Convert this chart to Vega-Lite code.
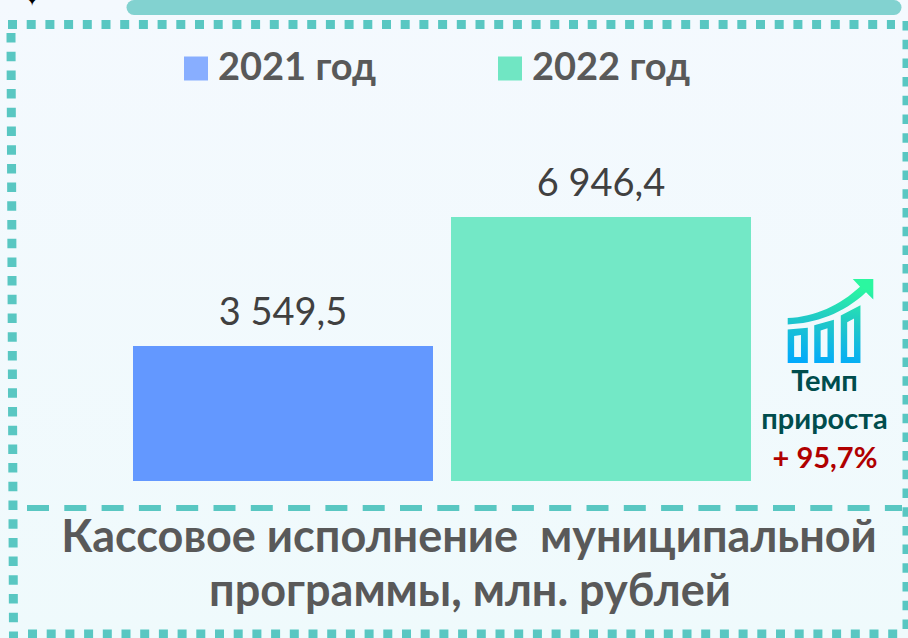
{
"$schema":"https://vega.github.io/schema/vega-lite/v6.json",
"width":908,"height":638,"padding":0,
"autosize":{"type":"none"},
"background":"#F2F9FD",
"config":{"view":{"stroke":null}},
"data":{"values":[
{"year":"2021 год","value":3549.5,"label":"3 549,5"},
{"year":"2022 год","value":6946.4,"label":"6 946,4"}]},
"layer":[
{"data":{"values":[{}]},"mark":{"type":"rect","color":{"gradient":"linear","x1":0,"y1":0,"x2":0,"y2":1,"stops":[{"offset":0,"color":"#F4F9FE"},{"offset":1,"color":"#EFFAFC"}]}},
 "encoding":{"x":{"value":0},"x2":{"value":908},"y":{"value":0},"y2":{"value":638}}},
{"data":{"values":[{}]},"mark":{"type":"rule","color":"#82D2D0","strokeWidth":15,"strokeCap":"round"},
 "encoding":{"x":{"value":134},"x2":{"value":894},"y":{"value":7.5},"y2":{"value":7.5}}},
{"data":{"values":[{}]},"mark":{"type":"rule","color":"#59C7C2","strokeWidth":9,"strokeDash":[9,9.7]},
 "encoding":{"x":{"value":8},"x2":{"value":895},"y":{"value":24.5},"y2":{"value":24.5}}},
{"data":{"values":[{}]},"mark":{"type":"rule","color":"#59C7C2","strokeWidth":9,"strokeDash":[9.5,9.2]},
 "encoding":{"x":{"value":11},"x2":{"value":13.5},"y":{"value":33},"y2":{"value":638}}},
{"data":{"values":[{}]},"mark":{"type":"rule","color":"#59C7C2","strokeWidth":9,"strokeDash":[9.5,9.2]},
 "encoding":{"x":{"value":907},"x2":{"value":907},"y":{"value":21},"y2":{"value":638}}},
{"data":{"values":[{}]},"mark":{"type":"rule","color":"#59C7C2","strokeWidth":9,"strokeDash":[9,9.7]},
 "encoding":{"x":{"value":28},"x2":{"value":900},"y":{"value":634},"y2":{"value":634}}},
{"data":{"values":[{}]},"mark":{"type":"rule","color":"#59C7C2","strokeWidth":6,"strokeDash":[22,15.3]},
 "encoding":{"x":{"value":27},"x2":{"value":902},"y":{"value":508},"y2":{"value":508}}},
{"data":{"values":[{"note":"✦"}]},"mark":{"type":"text","font":"DejaVu Sans","fontSize":20,"color":"#000000","align":"center","baseline":"middle"},
 "encoding":{"text":{"field":"note"},"x":{"value":32},"y":{"value":0}}},
{"mark":{"type":"bar","fillOpacity":0,"strokeOpacity":0},
 "encoding":{
  "x":{"field":"year","type":"nominal","axis":null,"scale":{"range":[133,751],"paddingInner":0.0566,"paddingOuter":0}},
  "y":{"field":"value","type":"quantitative","axis":null,"scale":{"domain":[-4131,12656],"nice":false,"zero":false}},
  "y2":{"datum":0},
  "color":{"field":"year","type":"nominal","scale":{"domain":["2021 год","2022 год"],"range":["#88AEFF","#70E6C3"]},
   "legend":{"orient":"none","legendX":177,"legendY":49.5,"direction":"horizontal","columns":2,"title":null,"symbolType":"square","symbolSize":576,"symbolOpacity":1,"symbolFillColor":null,"symbolStrokeWidth":0,"labelFont":"Lato","labelFontSize":38,"labelFontWeight":"bold","labelColor":"#595959","labelOffset":3,"columnPadding":114,"padding":0,"labelLimit":300}}
 }},
{"mark":{"type":"bar"},
 "encoding":{
  "x":{"field":"year","type":"nominal","axis":null},
  "y":{"field":"value","type":"quantitative","axis":null},
  "y2":{"datum":0},
  "fill":{"field":"year","type":"nominal","legend":null,"scale":{"domain":["2021 год","2022 год"],"range":["#6398FF","#73E8C6"]}}
 }},
{"mark":{"type":"text","font":"Lato","fontSize":38,"color":"#404040","align":"center","baseline":"alphabetic","dy":-21},
 "encoding":{
  "x":{"field":"year","type":"nominal","axis":null},
  "y":{"field":"value","type":"quantitative","axis":null},
  "text":{"field":"label"}
 }},
{"data":{"values":[{}]},"mark":{"type":"point","filled":true,"opacity":1,"size":7327,
  "shape":"M-1 -0.07 C-0.36 -0.09 0.22 -0.37 0.69 -0.8 L0.52 -0.98 L1 -0.98 L1 -0.5 L0.83 -0.67 C0.3 -0.17 -0.36 0.06 -1 0.08 Z M-1 0.2 L-1 0.98 L-0.53 0.98 L-0.53 0.16 Z M-0.85 0.35 L-0.69 0.33 L-0.69 0.84 L-0.85 0.84 Z M-0.38 0.1 L-0.38 0.98 L0.08 0.98 L0.08 -0.03 Z M-0.23 0.22 L-0.07 0.17 L-0.07 0.84 L-0.23 0.84 Z M0.24 -0.13 L0.24 0.98 L0.7 0.98 L0.7 -0.37 Z M0.39 0.03 L0.55 -0.06 L0.55 0.84 L0.39 0.84 Z",
  "fill":{"gradient":"linear","x1":0,"y1":1,"x2":0.15,"y2":0,"stops":[{"offset":0,"color":"#00A8FF"},{"offset":0.55,"color":"#20C8C8"},{"offset":1,"color":"#2BF7A0"}]}},
 "encoding":{"x":{"value":830.5},"y":{"value":321}}},
{"data":{"values":[{"note":"Темп"}]},"mark":{"type":"text","font":"Lato","fontSize":29,"fontWeight":"bold","color":"#004D4D","align":"center","baseline":"alphabetic"},
 "encoding":{"text":{"field":"note"},"x":{"value":824.5},"y":{"value":391}}},
{"data":{"values":[{"note":"прироста"}]},"mark":{"type":"text","font":"Lato","fontSize":29,"fontWeight":"bold","color":"#004D4D","align":"center","baseline":"alphabetic"},
 "encoding":{"text":{"field":"note"},"x":{"value":824.5},"y":{"value":429}}},
{"data":{"values":[{"note":"+ 95,7%"}]},"mark":{"type":"text","font":"Lato","fontSize":29,"fontWeight":"bold","color":"#B00000","align":"center","baseline":"alphabetic"},
 "encoding":{"text":{"field":"note"},"x":{"value":825},"y":{"value":468}}},
{"data":{"values":[{"note":"Кассовое исполнение \u00a0муниципальной"}]},"mark":{"type":"text","font":"Lato","fontSize":45,"fontWeight":"bold","color":"#595959","align":"center","baseline":"alphabetic"},
 "encoding":{"text":{"field":"note"},"x":{"value":469},"y":{"value":552}}},
{"data":{"values":[{"note":"программы, млн. рублей"}]},"mark":{"type":"text","font":"Lato","fontSize":45,"fontWeight":"bold","color":"#595959","align":"center","baseline":"alphabetic"},
 "encoding":{"text":{"field":"note"},"x":{"value":470},"y":{"value":606}}}
]
}
